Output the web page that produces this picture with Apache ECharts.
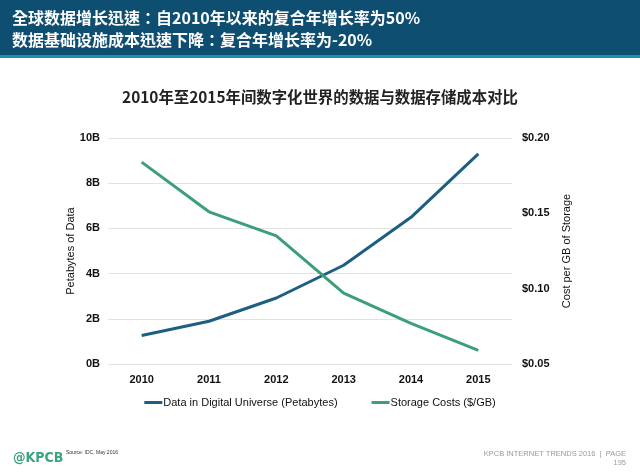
<!DOCTYPE html>
<html><head><meta charset="utf-8">
<script src="https://cdn.jsdelivr.net/npm/echarts@6/dist/echarts.min.js"></script>
<style>html,body{margin:0;padding:0;background:#fff}#c{width:640px;height:475px}</style>
</head><body><div id="c"></div>
<script>
var years = ['2010','2011','2012','2013','2014','2015'];
var dataUniverse = [1.26, 1.89, 2.92, 4.37, 6.49, 9.30];
var storageCost = [0.184, 0.151, 0.135, 0.097, 0.077, 0.059];
var seriesNames = ['Data in Digital Universe (Petabytes)', 'Storage Costs ($/GB)'];
var headerLines = ['全球数据增长迅速：自2010年以来的复合年增长率为50%', '数据基础设施成本迅速下降：复合年增长率为-20%'];
var chartTitle = '2010年至2015年间数字化世界的数据与数据存储成本对比';

var font = 'Liberation Sans, Arial, sans-serif';
var cjk = '"Noto Sans CJK SC", sans-serif';
var chart = echarts.init(document.getElementById('c'));
chart.setOption({
  animation: false,
  backgroundColor: '#fff',
  title: {
    text: chartTitle, left: 'center', top: 84,
    textStyle: {fontFamily: cjk, fontSize: 15.4, fontWeight: 'bold', color: '#222'}
  },
  legend: {
    bottom: 62, left: 'center', itemGap: 34, itemWidth: 18, itemHeight: 3,
    icon: 'rect',
    textStyle: {fontFamily: font, fontSize: 11, color: '#111', padding: [0,0,0,-4]},
    data: seriesNames
  },
  grid: {left: 108, right: 128, top: 138, bottom: 111},
  xAxis: {
    type: 'category', data: years, boundaryGap: true,
    axisLine: {show: false}, axisTick: {show: false},
    axisLabel: {fontFamily: font, fontSize: 11, fontWeight: 'bold', color: '#111', margin: 10}
  },
  yAxis: [{
    type: 'value', min: 0, max: 10, interval: 2,
    name: 'Petabytes of Data', nameLocation: 'middle', nameGap: 32, nameRotate: 90, nameMoveOverlap: false,
    nameTextStyle: {fontFamily: font, fontSize: 11, color: '#111'},
    axisLine: {show: false}, axisTick: {show: false},
    axisLabel: {fontFamily: font, fontSize: 11, fontWeight: 'bold', color: '#111', margin: 8, formatter: '{value}B'},
    splitLine: {lineStyle: {color: '#e3e3e3', width: 1}}
  }, {
    type: 'value', min: 0.05, max: 0.20, interval: 0.05, position: 'right',
    name: 'Cost per GB of Storage', nameLocation: 'middle', nameGap: 49, nameRotate: 90, nameMoveOverlap: false,
    nameTextStyle: {fontFamily: font, fontSize: 11, color: '#111'},
    axisLine: {show: false}, axisTick: {show: false},
    axisLabel: {fontFamily: font, fontSize: 11, fontWeight: 'bold', color: '#111', margin: 10,
      formatter: function(v){ return '$' + v.toFixed(2); }},
    splitLine: {show: false}
  }],
  series: [{
    name: seriesNames[0], type: 'line', yAxisIndex: 0, data: dataUniverse,
    symbol: 'none', lineStyle: {color: '#1d5f82', width: 3}, itemStyle: {color: '#1d5f82'}
  }, {
    name: seriesNames[1], type: 'line', yAxisIndex: 1, data: storageCost,
    symbol: 'none', lineStyle: {color: '#3c9f7a', width: 3}, itemStyle: {color: '#3c9f7a'}
  }],
  graphic: [
    {type: 'rect', shape: {x: 0, y: 0, width: 640, height: 56}, style: {fill: '#0e4e71'}, z: 0},
    {type: 'rect', shape: {x: 0, y: 55, width: 640, height: 3}, style: {fill: '#1f8fae'}, z: 0},
    {type: 'text', left: 12, top: 10, style: {text: headerLines[0], fill: '#fff', font: 'bold 16px "Noto Sans CJK TC", sans-serif'}},
    {type: 'text', left: 12, top: 32, style: {text: headerLines[1], fill: '#fff', font: 'bold 16px "Noto Sans CJK TC", sans-serif'}},
    {type: 'text', left: 13, top: 451, style: {text: '@KPCB', fill: '#3aa37f', font: 'bold 14px "DejaVu Sans Condensed", sans-serif'}},
    {type: 'text', left: 66, top: 450, style: {text: 'Source: IDC, May 2016', fill: '#333', font: '5px Liberation Sans, sans-serif'}},
    {type: 'text', right: 14, top: 450, style: {text: 'KPCB INTERNET TRENDS 2016  |  PAGE', fill: '#999', font: '7.5px Liberation Sans, sans-serif'}},
    {type: 'text', right: 14, top: 459, style: {text: '195', fill: '#999', font: '7.5px Liberation Sans, sans-serif'}}
  ]
});
</script></body></html>
